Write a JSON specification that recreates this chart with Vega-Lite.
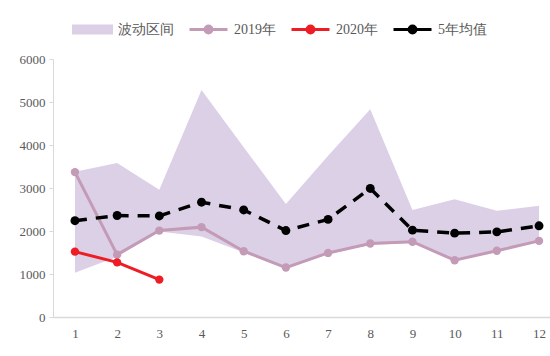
{
  "$schema": "https://vega.github.io/schema/vega-lite/v6.json",
  "autosize": {"type": "none"},
  "width": 497,
  "height": 258,
  "padding": {"left": 53, "top": 59, "right": 0, "bottom": 39},
  "background": "white",
  "config": {
    "view": {"stroke": null},
    "font": "Liberation Serif",
    "axis": {"labelFont": "Liberation Serif", "labelColor": "#595959", "labelFontSize": 13, "grid": false, "domainColor": "#d9d9d9", "tickColor": "#d9d9d9", "title": null},
    "legend": {"labelFont": "Liberation Serif"}
  },
  "data": {"values": [
    {"month": 1, "lower": 1030, "upper": 3380, "y2019": 3370, "y2020": 1520, "avg": 2240},
    {"month": 2, "lower": 1400, "upper": 3580, "y2019": 1450, "y2020": 1270, "avg": 2360},
    {"month": 3, "lower": 1990, "upper": 2960, "y2019": 2010, "y2020": 870, "avg": 2350},
    {"month": 4, "lower": 1870, "upper": 5280, "y2019": 2090, "y2020": null, "avg": 2670},
    {"month": 5, "lower": 1500, "upper": 3950, "y2019": 1530, "y2020": null, "avg": 2490},
    {"month": 6, "lower": 1130, "upper": 2630, "y2019": 1150, "y2020": null, "avg": 2010},
    {"month": 7, "lower": 1460, "upper": 3750, "y2019": 1490, "y2020": null, "avg": 2270},
    {"month": 8, "lower": 1680, "upper": 4830, "y2019": 1710, "y2020": null, "avg": 2990},
    {"month": 9, "lower": 1720, "upper": 2490, "y2019": 1750, "y2020": null, "avg": 2020},
    {"month": 10, "lower": 1320, "upper": 2740, "y2019": 1320, "y2020": null, "avg": 1950},
    {"month": 11, "lower": 1520, "upper": 2470, "y2019": 1540, "y2020": null, "avg": 1980},
    {"month": 12, "lower": 1760, "upper": 2590, "y2019": 1770, "y2020": null, "avg": 2120}
  ]},
  "encoding": {
    "x": {"field": "month", "type": "quantitative", "scale": {"domain": [0.48, 12.26], "nice": false, "zero": false},
          "axis": {"values": [1,2,3,4,5,6,7,8,9,10,11,12], "ticks": false, "labelPadding": 10, "domainWidth": 1.5, "labelFont": "Liberation Serif"}}
  },
  "layer": [
    {
      "mark": {"type": "area", "opacity": 1},
      "encoding": {
        "y": {"field": "upper", "type": "quantitative", "scale": {"domain": [0, 6000], "nice": false},
              "axis": {"values": [0,1000,2000,3000,4000,5000,6000], "format": "d", "tickSize": 4, "labelPadding": 4, "domainWidth": 1, "labelFont": "Liberation Serif"}},
        "y2": {"field": "lower"},
        "color": {"datum": "波动区间", "type": "nominal",
          "scale": {"domain": ["波动区间", "2019年", "2020年", "5年均值"], "range": ["#dcd0e7", "#c49bb7", "#ee1c25", "#000000"]},
          "legend": {
            "title": null, "orient": "none", "legendX": 19, "legendY": -50, "direction": "horizontal", "columns": 4,
            "symbolSize": 1444, "labelFont": "Liberation Serif", "labelFontSize": 14, "labelColor": "#595959",
            "labelOffset": 5, "columnPadding": 9,
            "encode": {
              "symbols": {"update": {
                "shape": {"signal": "datum.value === '波动区间' ? 'M-1,-0.18L1,-0.18L1,0.18L-1,0.18Z' : 'M-1,0L-0.18,0M0.18,0L1,0M0.18,0A0.18,0.18 0 1,1 -0.18,0A0.18,0.18 0 1,1 0.18,0Z'"},
                "fill": {"signal": "scale('color', datum.value)"},
                "stroke": {"signal": "datum.value === '波动区间' ? null : scale('color', datum.value)"},
                "strokeWidth": {"value": 3},
                "opacity": {"value": 1},
                "fillOpacity": {"value": 1},
                "strokeOpacity": {"value": 1}
              }}
            }
          }
        }
      }
    },
    {
      "mark": {"type": "line", "strokeWidth": 3, "point": {"size": 70, "filled": true}},
      "encoding": {
        "y": {"field": "y2019", "type": "quantitative"},
        "color": {"datum": "2019年", "type": "nominal",
          "legend": {
            "title": null, "orient": "none", "legendX": 19, "legendY": -50, "direction": "horizontal", "columns": 4,
            "symbolSize": 1444, "labelFont": "Liberation Serif", "labelFontSize": 14, "labelColor": "#595959",
            "labelOffset": 5, "columnPadding": 9,
            "encode": {
              "symbols": {"update": {
                "shape": {"signal": "datum.value === '波动区间' ? 'M-1,-0.18L1,-0.18L1,0.18L-1,0.18Z' : 'M-1,0L-0.18,0M0.18,0L1,0M0.18,0A0.18,0.18 0 1,1 -0.18,0A0.18,0.18 0 1,1 0.18,0Z'"},
                "fill": {"signal": "scale('color', datum.value)"},
                "stroke": {"signal": "datum.value === '波动区间' ? null : scale('color', datum.value)"},
                "strokeWidth": {"value": 3},
                "opacity": {"value": 1},
                "fillOpacity": {"value": 1},
                "strokeOpacity": {"value": 1}
              }}
            }
          }}
      }
    },
    {
      "transform": [{"filter": "datum.y2020 != null"}],
      "mark": {"type": "line", "strokeWidth": 3, "point": {"size": 70, "filled": true}},
      "encoding": {
        "y": {"field": "y2020", "type": "quantitative"},
        "color": {"datum": "2020年", "type": "nominal",
          "legend": {
            "title": null, "orient": "none", "legendX": 19, "legendY": -50, "direction": "horizontal", "columns": 4,
            "symbolSize": 1444, "labelFont": "Liberation Serif", "labelFontSize": 14, "labelColor": "#595959",
            "labelOffset": 5, "columnPadding": 9,
            "encode": {
              "symbols": {"update": {
                "shape": {"signal": "datum.value === '波动区间' ? 'M-1,-0.18L1,-0.18L1,0.18L-1,0.18Z' : 'M-1,0L-0.18,0M0.18,0L1,0M0.18,0A0.18,0.18 0 1,1 -0.18,0A0.18,0.18 0 1,1 0.18,0Z'"},
                "fill": {"signal": "scale('color', datum.value)"},
                "stroke": {"signal": "datum.value === '波动区间' ? null : scale('color', datum.value)"},
                "strokeWidth": {"value": 3},
                "opacity": {"value": 1},
                "fillOpacity": {"value": 1},
                "strokeOpacity": {"value": 1}
              }}
            }
          }}
      }
    },
    {
      "mark": {"type": "line", "strokeWidth": 3.5, "strokeDash": [12, 9], "point": {"size": 80, "filled": true}},
      "encoding": {
        "y": {"field": "avg", "type": "quantitative"},
        "color": {"datum": "5年均值", "type": "nominal",
          "legend": {
            "title": null, "orient": "none", "legendX": 19, "legendY": -50, "direction": "horizontal", "columns": 4,
            "symbolSize": 1444, "labelFont": "Liberation Serif", "labelFontSize": 14, "labelColor": "#595959",
            "labelOffset": 5, "columnPadding": 9,
            "encode": {
              "symbols": {"update": {
                "shape": {"signal": "datum.value === '波动区间' ? 'M-1,-0.18L1,-0.18L1,0.18L-1,0.18Z' : 'M-1,0L-0.18,0M0.18,0L1,0M0.18,0A0.18,0.18 0 1,1 -0.18,0A0.18,0.18 0 1,1 0.18,0Z'"},
                "fill": {"signal": "scale('color', datum.value)"},
                "stroke": {"signal": "datum.value === '波动区间' ? null : scale('color', datum.value)"},
                "strokeWidth": {"value": 3},
                "opacity": {"value": 1},
                "fillOpacity": {"value": 1},
                "strokeOpacity": {"value": 1}
              }}
            }
          }}
      }
    }
  ]
}
